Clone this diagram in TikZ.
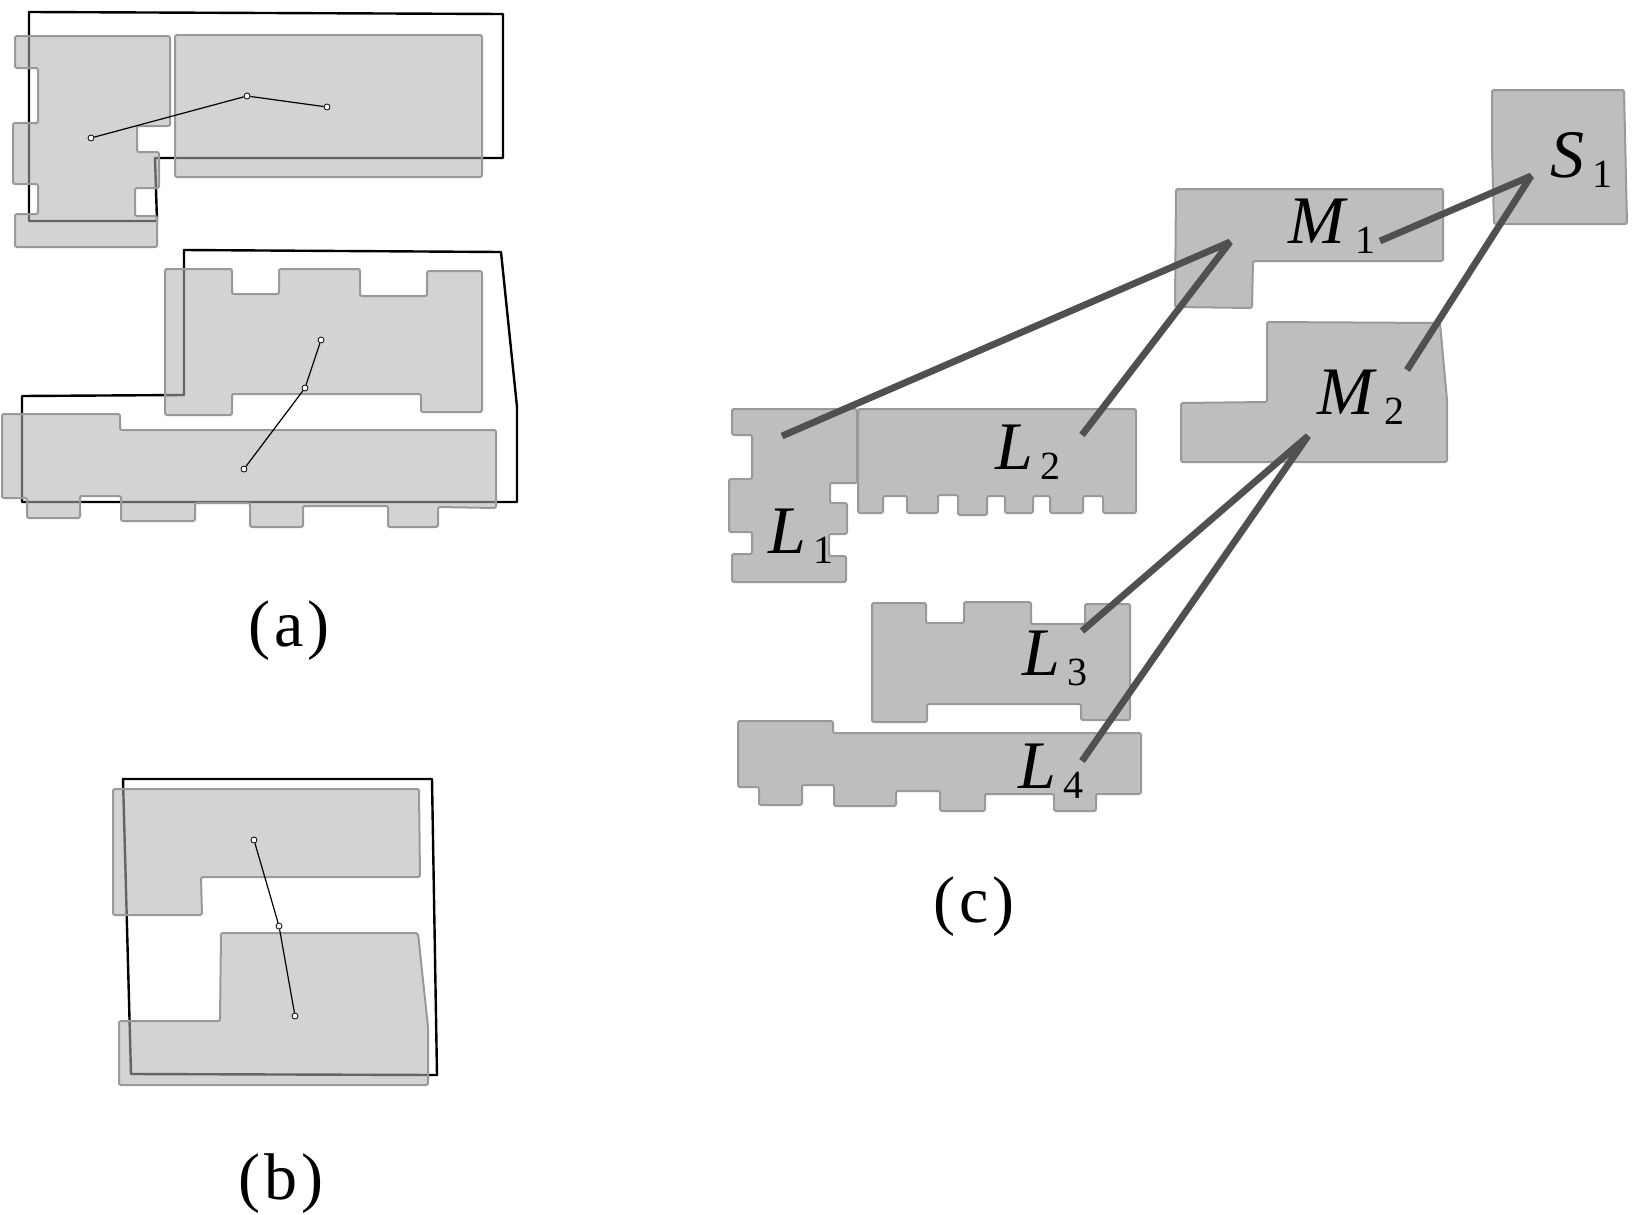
\documentclass[tikz,border=0pt]{standalone}
\usepackage{fontspec}
\setmainfont{Liberation Serif}
\usepackage{tikz}
\definecolor{BlockLight}{HTML}{B1B1B1}
\definecolor{BlockDark}{HTML}{BEBEBE}
\definecolor{BlockEdge}{HTML}{999999}
\definecolor{LinkGray}{HTML}{505050}
\tikzset{
  lightblock/.style={draw=BlockEdge, fill=BlockLight, fill opacity=0.57, line width=1pt, rounded corners=1pt},
  darkblock/.style={draw=BlockEdge, fill=BlockDark, line width=1pt, rounded corners=1pt},
  outline/.style={draw=black, line width=1.2pt, line join=round},
  waypoint/.style={circle, draw=black, fill=white, line width=0.4pt, inner sep=0pt, minimum size=3pt},
  pathline/.style={draw=black, line width=0.6pt},
  linkline/.style={draw=LinkGray, line width=3.4pt, line join=bevel},
  blocklabel/.style={anchor=base west, inner sep=0pt, outer sep=0pt},
  caption/.style={font=\fontsize{33}{38}\selectfont, inner sep=0pt}
}
\newcommand{\blockname}[2]{\fontsize{34}{36}\selectfont\textit{#1}\hspace{4pt}\raisebox{-5pt}{\fontsize{20}{22}\selectfont #2}}
\newcommand{\panelname}[1]{(\kern2pt #1\kern2pt)}
\begin{document}
\begin{tikzpicture}[x=0.5pt, y=-0.5pt]
  \useasboundingbox (0,0) rectangle (1634,1215);
  % panel a
  \draw[outline] (29,12) -- (503,14) -- (503,158) -- (155,158) -- (157,221) -- (29,221) -- cycle;
  \draw[outline] (184,250) -- (501,252) -- (517,407) -- (517,502) -- (22,502) -- (22,396) -- (184,395) -- cycle;
  \draw[lightblock] (15,36) -- (170,36) -- (170,126) -- (137,126) -- (137,152) -- (159,152) -- (159,188) -- (135,188) -- (135,216) -- (157,216) -- (157,247) -- (15,247) -- (15,214) -- (38,214) -- (38,184) -- (13,184) -- (13,123) -- (38,123) -- (38,68) -- (15,68) -- cycle;
  \draw[lightblock] (175,35) rectangle (482,177);
  \draw[lightblock] (165,269) -- (232,269) -- (232,294) -- (279,294) -- (279,269) -- (360,269) -- (360,296) -- (427,296) -- (427,271) -- (482,271) -- (482,412) -- (421,412) -- (421,394) -- (232,394) -- (232,415) -- (165,415) -- cycle;
  \draw[lightblock] (2,414) -- (120,414) -- (120,430) -- (496,430) -- (496,508) -- (438,507) -- (438,527) -- (388,527) -- (388,506) -- (303,506) -- (303,527) -- (250,527) -- (250,503) -- (195,503) -- (195,521) -- (121,521) -- (121,496) -- (80,496) -- (80,518) -- (27,518) -- (27,498) -- (2,498) -- cycle;
  \node[waypoint] (a1) at (91,138) {};
  \node[waypoint] (a2) at (247,96) {};
  \node[waypoint] (a3) at (327,107) {};
  \node[waypoint] (a4) at (321,340) {};
  \node[waypoint] (a5) at (305,388) {};
  \node[waypoint] (a6) at (244,469) {};
  \draw[pathline] (a1) -- (a2) -- (a3);
  \draw[pathline] (a4) -- (a5) -- (a6);
  \node[caption] (capa) at (289,631) {\panelname{a}};
  % panel b
  \draw[outline] (123,779) -- (432,779) -- (437,1075) -- (131,1074) -- cycle;
  \draw[lightblock] (113,789) -- (419,789) -- (420,877) -- (201,877) -- (202,915) -- (113,915) -- cycle;
  \draw[lightblock] (221,933) -- (418,933) -- (428,1027) -- (428,1085) -- (119,1085) -- (119,1021) -- (220,1021) -- cycle;
  \node[waypoint] (b1) at (254,840) {};
  \node[waypoint] (b2) at (279,926) {};
  \node[waypoint] (b3) at (295,1016) {};
  \draw[pathline] (b1) -- (b2) -- (b3);
  \node[caption] (capb) at (281,1184) {\panelname{b}};
  % panel c
  \draw[darkblock] (732,409) -- (857,409) -- (857,483) -- (830,483) -- (830,503) -- (847,503) -- (847,534) -- (829,534) -- (829,556) -- (846,556) -- (846,582) -- (732,582) -- (732,554) -- (752,554) -- (752,532) -- (729,532) -- (729,479) -- (752,479) -- (752,435) -- (732,435) -- cycle;
  \draw[darkblock] (858,409) -- (1136,409) -- (1136,513) -- (1103,513) -- (1103,496) -- (1083,496) -- (1083,513) -- (1050,513) -- (1050,496) -- (1033,496) -- (1033,513) -- (1005,513) -- (1005,496) -- (987,496) -- (987,515) -- (958,515) -- (958,495) -- (938,495) -- (938,513) -- (907,513) -- (907,496) -- (883,496) -- (883,513) -- (858,513) -- cycle;
  \draw[darkblock] (872,603) -- (926,603) -- (926,623) -- (964,623) -- (964,602) -- (1031,602) -- (1031,624) -- (1085,624) -- (1085,604) -- (1130,604) -- (1130,720) -- (1081,720) -- (1081,704) -- (927,704) -- (927,722) -- (872,722) -- cycle;
  \draw[darkblock] (738,721) -- (833,721) -- (833,733) -- (1141,733) -- (1141,794) -- (1096,794) -- (1096,811) -- (1054,811) -- (1054,794) -- (985,794) -- (985,811) -- (940,811) -- (940,791) -- (896,791) -- (896,806) -- (834,806) -- (834,785) -- (802,785) -- (802,805) -- (759,805) -- (759,787) -- (738,787) -- cycle;
  \draw[darkblock] (1176,189) -- (1443,189) -- (1443,261) -- (1253,261) -- (1252,308) -- (1175,307) -- cycle;
  \draw[darkblock] (1267,322) -- (1440,323) -- (1447,400) -- (1447,462) -- (1181,462) -- (1181,403) -- (1267,402) -- cycle;
  \draw[darkblock] (1492,90) -- (1624,90) -- (1627,224) -- (1494,224) -- (1492,150) -- cycle;
  \node[blocklabel] (L1) at (768,553) {\blockname{L}{1}};
  \node[blocklabel] (L2) at (995,469) {\blockname{L}{2}};
  \node[blocklabel] (L3) at (1022,675) {\blockname{L}{3}};
  \node[blocklabel] (L4) at (1018,788) {\blockname{L}{4}};
  \node[blocklabel] (M1) at (1288,243) {\blockname{M}{1}};
  \node[blocklabel] (M2) at (1317,414) {\blockname{M}{2}};
  \node[blocklabel] (S1) at (1550,177) {\blockname{S}{1}};
  \coordinate (L1top) at (782,436);
  \coordinate (L2top) at (1082,435);
  \coordinate (L3top) at (1082,631);
  \coordinate (L4top) at (1082,761);
  \coordinate (M1low) at (1230,242);
  \coordinate (M1top) at (1380,241);
  \coordinate (M2low) at (1308,436);
  \coordinate (M2top) at (1407,370);
  \coordinate (S1low) at (1531,176);
  \draw[linkline] (L1top) -- (M1low) -- (L2top);
  \draw[linkline] (L3top) -- (M2low) -- (L4top);
  \draw[linkline] (M1top) -- (S1low) -- (M2top);
  \node[caption] (capc) at (974,907) {\panelname{c}};
\end{tikzpicture}
\end{document}
